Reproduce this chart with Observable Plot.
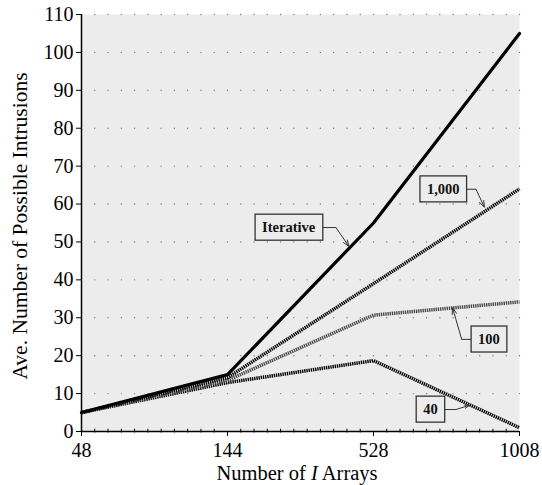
<!DOCTYPE html>
<html>
<head>
<meta charset="utf-8">
<script src="https://cdn.jsdelivr.net/npm/d3@7"></script>
<script src="https://cdn.jsdelivr.net/npm/@observablehq/plot@0.6"></script>
<style>
  html, body { margin: 0; padding: 0; background: #fff; }
  #chart svg { display: block; }
</style>
</head>
<body>
<div id="chart"></div>
<script>
// ---- data ----
const xLabels = ["48", "144", "528", "1008"];
const iterative = [5, 15, 55, 105];
const series1000 = [5, 14.2, 39, 64];
const series100 = [5, 13.5, 30.7, 34.2];
const series40 = [5, 12.9, 18.7, 1];
const yTicks = [0, 10, 20, 30, 40, 50, 60, 70, 80, 90, 100, 110];

// annotations (label, box centre, elbow, arrow tip) in data units
const annLabels = ["Iterative", "1,000", "100", "40"];
const annBoxX = [1.419, 2.478, 2.791, 2.390];
const annBoxY = [53.8, 63.9, 24.3, 5.8];
const annElbowX = [1.743, 2.702, 2.604, 2.565];
const annTipX = [1.832, 2.759, 2.542, 2.656];
const annTipY = [48.8, 59.2, 32.6, 6.9];

// ---- build tables ----
const lineTable = (vals, name) => vals.map((v, i) => ({ i, v, name }));
const ann = annLabels.map((label, k) => ({
  label, bx: annBoxX[k], by: annBoxY[k], ex: annElbowX[k], tx: annTipX[k], ty: annTipY[k]
}));

const sub = 11; // dotted grid subdivisions per category step
const gridDots = [];
for (const yv of yTicks.slice(1)) {
  for (let k = 1; k <= (xLabels.length - 1) * sub; k++) gridDots.push({ x: k / sub, y: yv });
}
const minorTicks = d3.range(1, (xLabels.length - 1) * sub).filter(k => k % sub !== 0).map(k => k / sub);

const dotted = { strokeDasharray: "1.4,0.8", strokeWidth: 3.5, strokeLinecap: "butt", strokeLinejoin: "miter" };
const fam = "'Liberation Serif', 'Times New Roman', serif";

const chart = Plot.plot({
  width: 542,
  height: 485,
  marginLeft: 81,
  marginRight: 23,
  marginTop: 14,
  marginBottom: 54,
  style: { fontFamily: fam, fontSize: "20px", background: "#fff", color: "#000" },
  x: { domain: [0, xLabels.length - 1] },
  y: { domain: [0, 110] },
  marks: [
    Plot.frame({ fill: "#ececec", stroke: null }),
    Plot.dot(gridDots, { x: "x", y: "y", r: 0.7, fill: "#7a7a7a", stroke: null }),
    Plot.line(lineTable(series40, "40"), { x: "i", y: "v", stroke: "#000", ...dotted }),
    Plot.line(lineTable(series100, "100"), { x: "i", y: "v", stroke: "#4a4a4a", ...dotted }),
    Plot.line(lineTable(series1000, "1,000"), { x: "i", y: "v", stroke: "#000", ...dotted }),
    Plot.line(lineTable(iterative, "Iterative"), { x: "i", y: "v", stroke: "#000", strokeWidth: 3.2 }),
    Plot.ruleX(minorTicks, { x: d => d, y1: -0.4, y2: 0.6, stroke: "#000", strokeWidth: 1 }),
    Plot.ruleY([0], { stroke: "#000", strokeWidth: 1.5 }),
    Plot.ruleX([0], { stroke: "#000", strokeWidth: 1.5 }),
    Plot.link(ann, { x1: "bx", y1: "by", x2: "ex", y2: "by", stroke: "#333", strokeWidth: 1 }),
    Plot.arrow(ann, { x1: "ex", y1: "by", x2: "tx", y2: "ty", stroke: "#333", strokeWidth: 1, headLength: 10, headAngle: 40 }),
    Plot.text(ann, { x: "bx", y: "by", text: "label", fontWeight: "bold", fontSize: 14.5, fill: "#111", className: "ann" }),
    Plot.axisY({ ticks: yTicks, tickSize: 5, tickPadding: 3, label: null, fontSize: 20 }),
    Plot.axisX({ ticks: [0, 1, 2, 3], tickFormat: i => xLabels[i], tickSize: 5, tickPadding: 6, label: null, fontSize: 20 })
  ]
});

document.getElementById("chart").append(chart);
const svg = d3.select(chart);

// annotation boxes behind labels
svg.selectAll("g.ann text").each(function () {
  const b = this.getBBox();
  const rect = document.createElementNS("http://www.w3.org/2000/svg", "rect");
  const tr = this.getAttribute("transform");
  if (tr) rect.setAttribute("transform", tr);
  rect.setAttribute("x", b.x - 7);
  rect.setAttribute("y", b.y - 5);
  rect.setAttribute("width", b.width + 14);
  rect.setAttribute("height", b.height + 10);
  rect.setAttribute("fill", "#ececec");
  rect.setAttribute("stroke", "#333");
  rect.setAttribute("stroke-width", 1.3);
  this.parentNode.insertBefore(rect, this);
});

// axis titles
const xt = svg.append("text")
  .attr("x", 297).attr("y", 480)
  .attr("text-anchor", "middle")
  .style("font-family", fam).style("font-size", "20.5px")
  .style("white-space", "pre");
xt.append("tspan").text("Number of ");
xt.append("tspan").style("font-style", "italic").text("I");
xt.append("tspan").text(" Arrays");

svg.append("text")
  .attr("transform", "translate(27,226) rotate(-90)")
  .attr("text-anchor", "middle")
  .style("font-family", fam).style("font-size", "21.5px")
  .text("Ave. Number of Possible Intrusions");
</script>
</body>
</html>
